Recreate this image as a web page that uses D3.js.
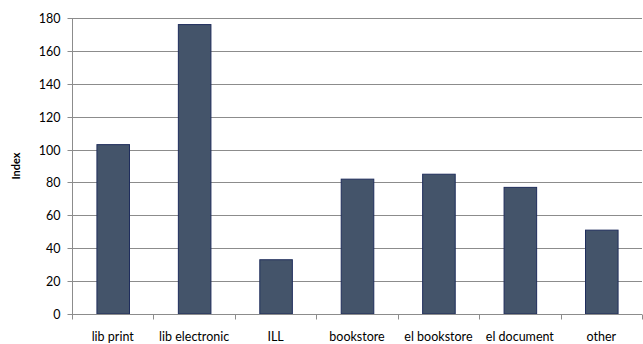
<!DOCTYPE html>
<html><head><meta charset="utf-8">
<script src="https://cdn.jsdelivr.net/npm/d3@7"></script>
<style>body{margin:0;background:#fff}svg{display:block}text{font-family:Lato,"Open Sans",sans-serif}</style>
</head><body><svg id="c" width="643" height="344"></svg>
<script>
const categories = ["lib print","lib electronic","ILL","bookstore","el bookstore","el document","other"];
const values = [103,176,33,82,85,77,51];
const yTicks = [0,20,40,60,80,100,120,140,160,180];
const yLabel = "Index";

const svg = d3.select("#c");
const m = {left:72, right:1, top:18, bottom:30};
const W = 643, H = 344;
const x = d3.scaleBand().domain(categories).range([m.left, W - m.right]).paddingInner(0.6).paddingOuter(0.3);
const xb = d3.scaleBand().domain(categories).range([m.left, W - m.right]);
const y = d3.scaleLinear().domain([0,180]).range([H - m.bottom, m.top]);

// gridlines
svg.append("g").selectAll("line").data(yTicks.filter(d=>d>0)).join("line")
  .attr("x1", m.left).attr("x2", W - m.right)
  .attr("y1", d=>Math.round(y(d))+0.5).attr("y2", d=>Math.round(y(d))+0.5)
  .attr("stroke", "#8c8c8c").attr("stroke-width",1);

// y axis
const ya = svg.append("g").attr("transform",`translate(${m.left+0.5},0)`)
  .call(d3.axisLeft(y).tickValues(yTicks).tickSize(5).tickPadding(7));
ya.select(".domain").attr("stroke","#8c8c8c").attr("d",`M-0,${y(180)}V${y(0)}`);
ya.selectAll(".tick line").attr("stroke","#8c8c8c");
ya.selectAll(".tick").attr("transform", d=>`translate(0,${Math.round(y(d))+0.5})`);
ya.selectAll("text").attr("font-size","12.5px").attr("fill","#000").style("font-family","Lato,sans-serif");

// bars
svg.append("g").selectAll("rect").data(values).join("rect")
  .attr("x",(d,i)=>x(categories[i])+0.5)
  .attr("y",d=>y(d))
  .attr("width",x.bandwidth())
  .attr("height",d=>y(0)-y(d))
  .attr("fill","#44546a").attr("stroke","#1f2d5c").attr("stroke-width",1);

// x axis
const xa = svg.append("g").attr("transform",`translate(0,${Math.round(y(0))+0.5})`);
xa.append("line").attr("x1",m.left).attr("x2",W-m.right).attr("stroke","#8c8c8c");
xa.selectAll("line.t").data(d3.range(categories.length+1)).join("line").attr("class","t")
  .attr("x1",i=>Math.round(m.left + i*xb.step())+0.5).attr("x2",i=>Math.round(m.left + i*xb.step())+0.5)
  .attr("y1",0).attr("y2",5).attr("stroke","#8c8c8c");
xa.selectAll("text").data(categories).join("text")
  .attr("x",d=>xb(d)+xb.bandwidth()/2).attr("y",26)
  .attr("text-anchor","middle").attr("font-size","12.5px").attr("fill","#000").text(d=>d);

// y label
svg.append("text").attr("transform",`translate(20,${(y(0)+y(180))/2}) rotate(-90)`)
  .attr("text-anchor","middle").attr("font-size","11px").attr("font-weight","bold").text(yLabel);
</script></body></html>
